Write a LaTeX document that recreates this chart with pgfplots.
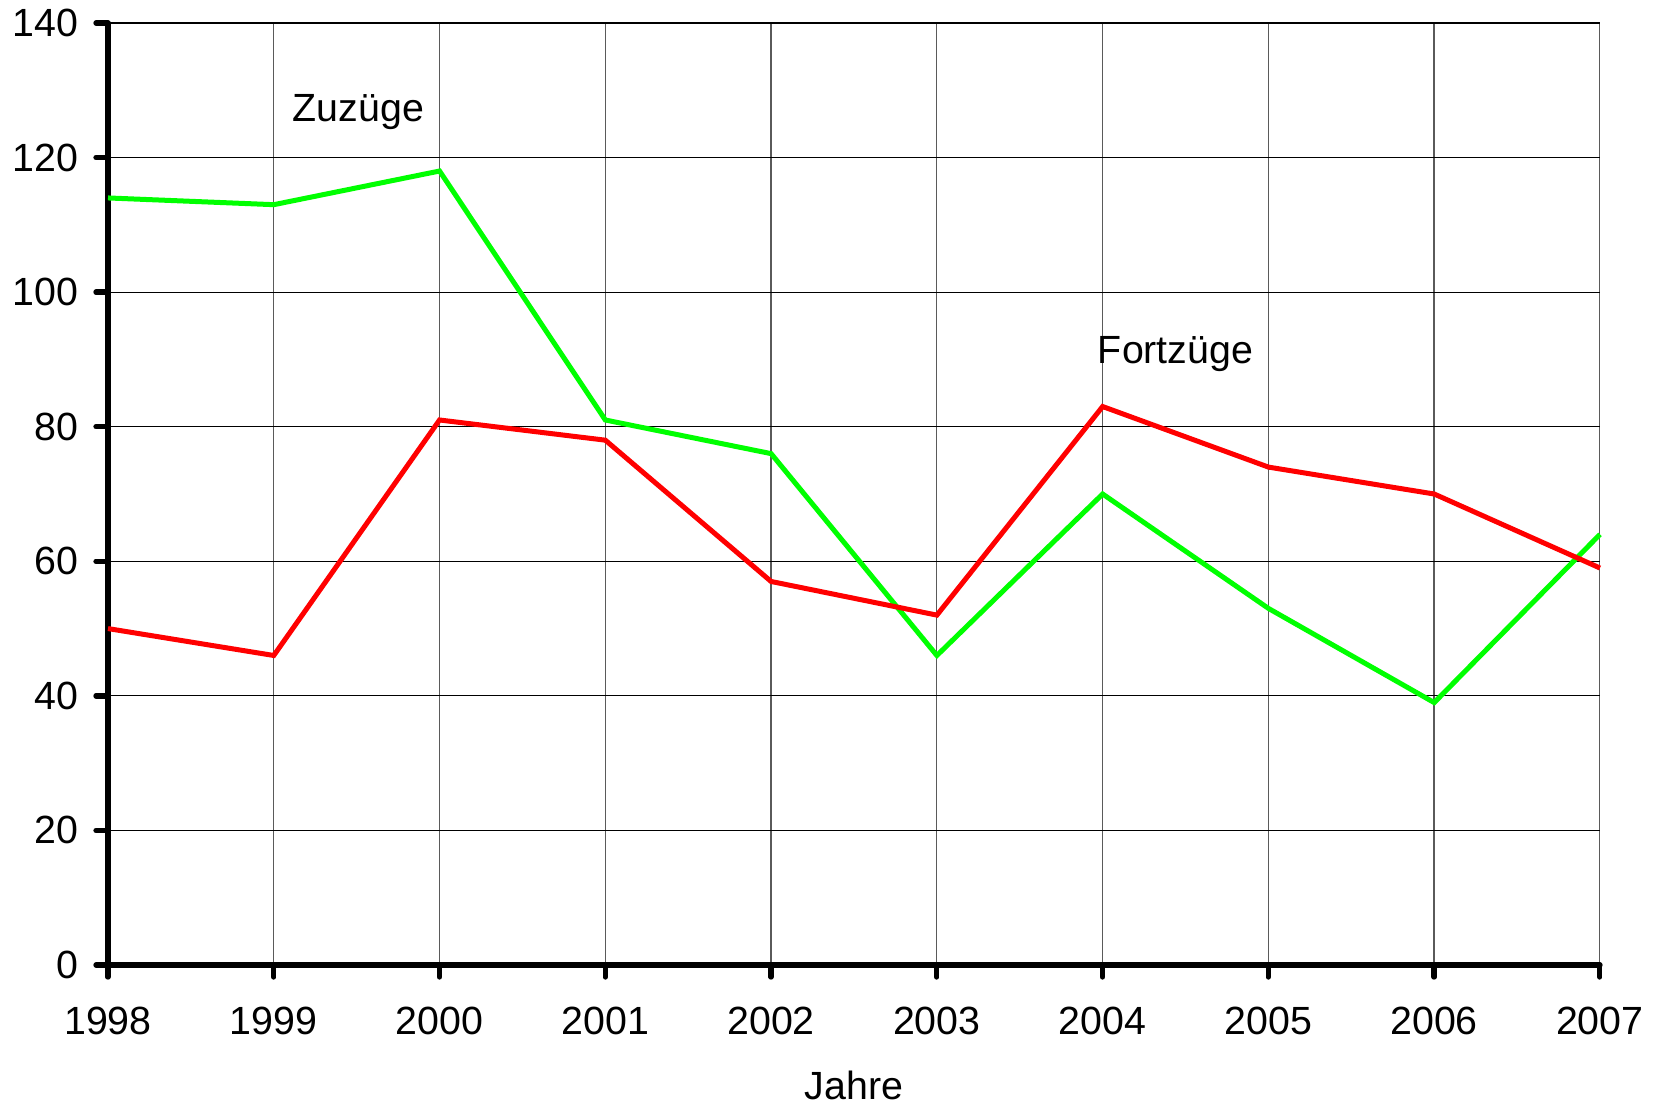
\documentclass[border=0pt]{standalone}
\usepackage{fontspec}
\setmainfont{Liberation Sans}
\usepackage{pgfplots}
\pgfplotsset{compat=1.18}
\definecolor{zuzgreen}{RGB}{0,255,0}
\definecolor{fortred}{RGB}{255,0,0}
\definecolor{gridgray}{RGB}{90,90,90}
\begin{document}
\begin{tikzpicture}
\useasboundingbox (-32.4pt,-43.5pt) rectangle (464.1pt,289.5pt);
\begin{axis}[
    scale only axis,
    width=447.6pt, height=282.6pt,
    xmin=1998, xmax=2007,
    ymin=0, ymax=140,
    xtick={1998,1999,...,2007},
    ytick={0,20,...,140},
    axis x line*=bottom,
    axis y line*=left,
    axis line style={black, line width=1.6pt, line cap=round},
    tick align=outside,
    major tick length=3.6pt,
    tick style={black, line width=1.6pt, line cap=round},
    xmajorgrids, ymajorgrids,
    x grid style={gridgray, line width=0.35pt},
    y grid style={black, line width=0.35pt},
    font=\fontsize{11.8}{14}\selectfont,
    /pgf/number format/assume math mode=true,
    x tick label style={/pgf/number format/1000 sep={}, yshift=-5.4pt},
    y tick label style={xshift=-1.8pt},
    xlabel={Jahre},
    xlabel style={yshift=-4pt},
    clip=false,
]
\addplot[zuzgreen, line width=1.5pt] coordinates {
(1998,114) (1999,113) (2000,118) (2001,81) (2002,76)
(2003,46) (2004,70) (2005,53) (2006,39) (2007,64)};
\addplot[fortred, line width=1.5pt] coordinates {
(1998,50) (1999,46) (2000,81) (2001,78) (2002,57)
(2003,52) (2004,83) (2005,74) (2006,70) (2007,59)};
\node at (axis cs:1999.51,126.8) {Zuzüge};
\node at (axis cs:2004.44,90.8) {Fortzüge};
\end{axis}
\end{tikzpicture}
\end{document}
